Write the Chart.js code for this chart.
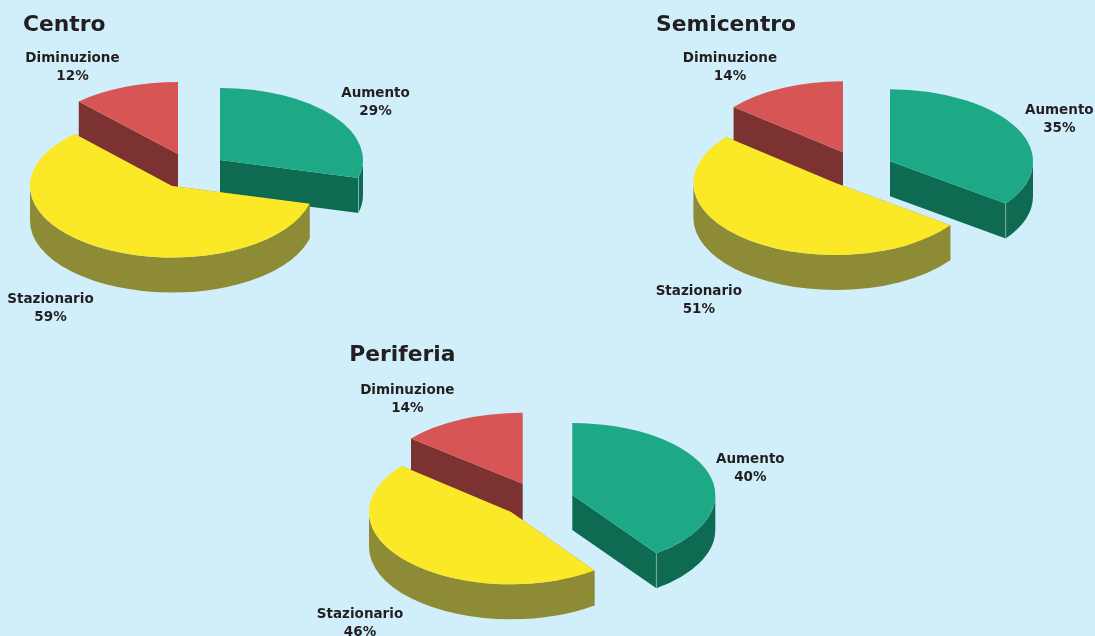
<!DOCTYPE html>
<html lang="it">
<head>
  <meta charset="UTF-8" />
  <title>Centro, Semicentro, Periferia</title>
  <script src="https://cdn.jsdelivr.net/npm/chart.js"></script>
  <style>
    html, body { margin: 0; width: 1095px; height: 636px; overflow: hidden; background: #d0effb; }
    canvas { position: absolute; }
  </style>
</head>
<body>
  <canvas id="centro" width="420" height="336" style="left:0;top:0"></canvas>
  <canvas id="semicentro" width="445" height="336" style="left:650px;top:0"></canvas>
  <canvas id="periferia" width="480" height="300" style="left:310px;top:336px"></canvas>

  <script>
    const categories = ['Aumento', 'Stazionario', 'Diminuzione'];
    const centroValues = [29, 59, 12];
    const semicentroValues = [35, 51, 14];
    const periferiaValues = [40, 46, 14];

    const topColors = ['#1da985', '#fbe827', '#d85555'];
    const sideColors = ['#0e6b52', '#8e8b37', '#7d3232'];
    const textColor = '#231f20';
    const font = '"DejaVu Sans", Verdana, sans-serif';

    // red slice goes first, it sits behind the others
    const drawOrder = [2, 0, 1];

    // draws the pie tilted, each slice pulled away from the chart centre
    const tiltedPie = {
      id: 'tiltedPie',
      beforeDatasetsDraw(chart, args, opts) {
        const ctx = chart.ctx;
        const arcs = chart.getDatasetMeta(0).data;

        drawOrder.forEach(i => {
          const arc = arcs[i];
          const s = opts.slices[i];
          const cx = arc.x + s.dx;
          const cy = arc.y + s.dy;
          const start = arc.startAngle;
          const end = arc.endAngle;

          ctx.save();
          ctx.fillStyle = sideColors[i];

          // cut faces
          [start, end].forEach(a => {
            const ex = cx + s.rx * Math.cos(a);
            const ey = cy + s.ry * Math.sin(a);
            ctx.beginPath();
            ctx.moveTo(cx, cy);
            ctx.lineTo(ex, ey);
            ctx.lineTo(ex, ey + s.depth);
            ctx.lineTo(cx, cy + s.depth);
            ctx.closePath();
            ctx.fill();
          });

          // curved wall, only the part facing the viewer
          const from = Math.max(start, 0);
          const to = Math.min(end, Math.PI);
          if (to > from) {
            ctx.beginPath();
            ctx.ellipse(cx, cy, s.rx, s.ry, 0, from, to);
            ctx.ellipse(cx, cy + s.depth, s.rx, s.ry, 0, to, from, true);
            ctx.closePath();
            ctx.fill();
          }

          // thin light edge on the green corner
          if (i === 0) {
            const ex = cx + s.rx * Math.cos(end);
            const ey = cy + s.ry * Math.sin(end);
            ctx.strokeStyle = 'rgba(255,255,255,0.35)';
            ctx.lineWidth = 1;
            ctx.beginPath();
            ctx.moveTo(ex, ey);
            ctx.lineTo(ex, ey + s.depth);
            ctx.stroke();
          }
          ctx.restore();

          // top of the slice is the library's own arc, squashed
          ctx.save();
          ctx.translate(cx, cy);
          ctx.scale(s.rx / arc.outerRadius, s.ry / arc.outerRadius);
          ctx.translate(-arc.x, -arc.y);
          arc.draw(ctx);
          ctx.restore();
        });

        // text
        ctx.save();
        ctx.fillStyle = textColor;
        ctx.textAlign = 'left';
        ctx.textBaseline = 'alphabetic';
        ctx.font = 'bold 21.8px ' + font;
        ctx.fillText(opts.title, opts.titleX, opts.titleY);

        ctx.textAlign = 'center';
        ctx.font = 'bold 13.5px ' + font;
        const values = chart.data.datasets[0].data;
        categories.forEach((name, i) => {
          const l = opts.labels[i];
          ctx.fillText(name, l.x, l.y);
          ctx.fillText(values[i] + '%', l.x, l.y + 18);
        });
        ctx.restore();

        return false; // already drawn
      }
    };

    function makePie(id, values, opts) {
      return new Chart(document.getElementById(id), {
        type: 'pie',
        data: {
          labels: categories,
          datasets: [{ data: values, backgroundColor: topColors, borderWidth: 0 }]
        },
        options: {
          responsive: false,
          animation: false,
          plugins: {
            legend: { display: false },
            tooltip: { enabled: false },
            tiltedPie: opts
          }
        },
        plugins: [tiltedPie]
      });
    }

    makePie('centro', centroValues, {
      title: 'Centro', titleX: 23, titleY: 31,
      slices: [
        { dx: 10, dy: -8, rx: 143, ry: 72, depth: 35 },
        { dx: -38, dy: 18, rx: 142, ry: 71.5, depth: 35 },
        { dx: -32, dy: -14, rx: 145, ry: 72, depth: 36 }
      ],
      labels: [{ x: 375.5, y: 97 }, { x: 50.5, y: 303 }, { x: 72.5, y: 62 }]
    });

    makePie('semicentro', semicentroValues, {
      title: 'Semicentro', titleX: 6, titleY: 31,
      slices: [
        { dx: 17.5, dy: -6.7, rx: 143, ry: 72, depth: 35 },
        { dx: -37.1, dy: 15, rx: 142, ry: 72, depth: 35 },
        { dx: -29.5, dy: -15.7, rx: 142, ry: 71, depth: 36 }
      ],
      labels: [{ x: 409.3, y: 114 }, { x: 48.8, y: 295 }, { x: 80, y: 62 }]
    });

    makePie('periferia', periferiaValues, {
      title: 'Periferia', titleX: 39.3, titleY: 24.5,
      slices: [
        { dx: 22.3, dy: 9, rx: 143, ry: 72, depth: 35 },
        { dx: -39, dy: 26, rx: 142, ry: 72.3, depth: 35 },
        { dx: -27.3, dy: -2.3, rx: 145, ry: 71, depth: 37 }
      ],
      labels: [{ x: 440.3, y: 127.3 }, { x: 50, y: 281.5 }, { x: 97.3, y: 58 }]
    });
  </script>
</body>
</html>
